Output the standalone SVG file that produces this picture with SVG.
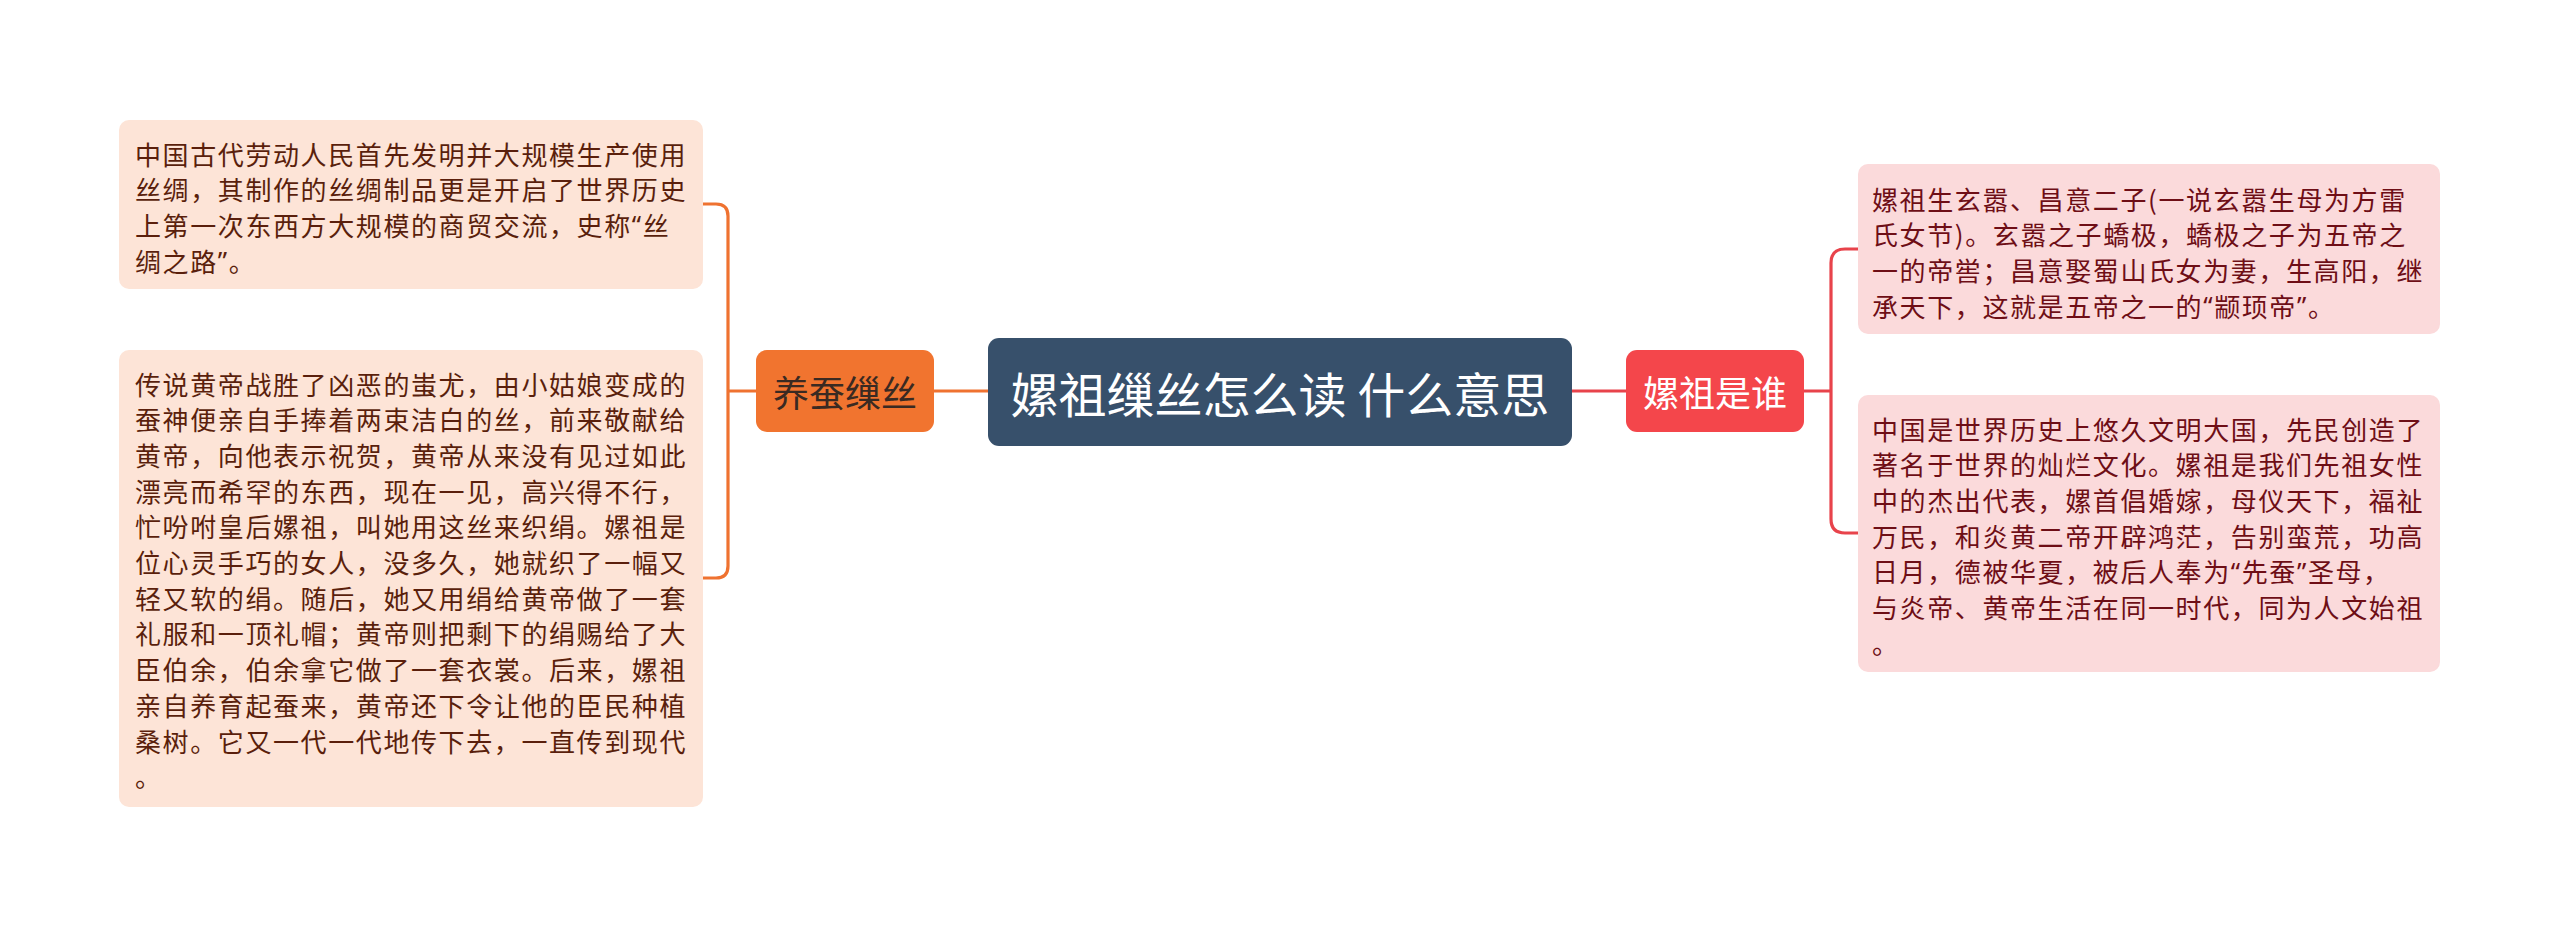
<svg xmlns="http://www.w3.org/2000/svg" width="2560" height="926" viewBox="0 0 2560 926">
<style>
text{font-family:"Noto Sans CJK SC","Noto Sans CJK JP",sans-serif;dominant-baseline:central}
.body{font-size:26px;letter-spacing:1.6px}
.q{font-family:"Noto Sans",sans-serif}
.lt{fill:#5a1f0c}
.rt{fill:#6e0e16}
.lbox{fill:#fde4d7}
.rbox{fill:#fbdadb}
.co{fill:none;stroke:#ef7230;stroke-width:3.2}
.cr{fill:none;stroke:#e8434b;stroke-width:3.2}
.nt{font-size:36px;text-anchor:middle}
</style>
<rect width="2560" height="926" fill="#ffffff"/>
<g id="connectors">
<path class="co" d="M988 391H934M756 391H728M728 391V216Q728 204 716 204H703M728 391V566Q728 578 716 578H703"/>
<path class="cr" d="M1572 391H1626M1804 391H1831M1831 391V263Q1831 249 1845 249H1858M1831 391V519Q1831 533 1845 533H1858"/>
</g>
<g id="center">
<rect x="988" y="338" width="584" height="108" rx="11" fill="#37506b"/>
<text x="1280" y="392" font-size="48" text-anchor="middle" fill="#ffffff">嫘祖缫丝怎么读 什么意思</text>
</g>
<g id="node-yangcan">
<rect x="756" y="350" width="178" height="82" rx="11" fill="#f1742f"/>
<text class="nt" x="845" y="391" fill="#3a2a22">养蚕缫丝</text>
</g>
<g id="node-leizu">
<rect x="1626" y="350" width="178" height="82" rx="11" fill="#f4464b"/>
<text class="nt" x="1715" y="391" fill="#ffffff">嫘祖是谁</text>
</g>
<g id="leaf-l1">
<rect class="lbox" x="119" y="120" width="584" height="169" rx="10"/>
<text class="body lt" x="135" y="153">中国古代劳动人民首先发明并大规模生产使用</text>
<text class="body lt" x="135" y="188.7">丝绸，其制作的丝绸制品更是开启了世界历史</text>
<text class="body lt" x="135" y="224.4">上第一次东西方大规模的商贸交流，史称<tspan class="q">“</tspan>丝</text>
<text class="body lt" x="135" y="260.1">绸之路<tspan class="q">”</tspan>。</text>
</g>
<g id="leaf-l2">
<rect class="lbox" x="119" y="350" width="584" height="457" rx="10"/>
<text class="body lt" x="135" y="383">传说黄帝战胜了凶恶的蚩尤，由小姑娘变成的</text>
<text class="body lt" x="135" y="418.7">蚕神便亲自手捧着两束洁白的丝，前来敬献给</text>
<text class="body lt" x="135" y="454.4">黄帝，向他表示祝贺，黄帝从来没有见过如此</text>
<text class="body lt" x="135" y="490.1">漂亮而希罕的东西，现在一见，高兴得不行，</text>
<text class="body lt" x="135" y="525.8">忙吩咐皇后嫘祖，叫她用这丝来织绢。嫘祖是</text>
<text class="body lt" x="135" y="561.5">位心灵手巧的女人，没多久，她就织了一幅又</text>
<text class="body lt" x="135" y="597.2">轻又软的绢。随后，她又用绢给黄帝做了一套</text>
<text class="body lt" x="135" y="632.9">礼服和一顶礼帽；黄帝则把剩下的绢赐给了大</text>
<text class="body lt" x="135" y="668.6">臣伯余，伯余拿它做了一套衣裳。后来，嫘祖</text>
<text class="body lt" x="135" y="704.3">亲自养育起蚕来，黄帝还下令让他的臣民种植</text>
<text class="body lt" x="135" y="740">桑树。它又一代一代地传下去，一直传到现代</text>
<text class="body lt" x="135" y="775.7">。</text>
</g>
<g id="leaf-r1">
<rect class="rbox" x="1858" y="164" width="582" height="170" rx="10"/>
<text class="body rt" x="1872" y="198">嫘祖生玄嚣、昌意二子(一说玄嚣生母为方雷</text>
<text class="body rt" x="1872" y="233.7">氏女节)。玄嚣之子蟜极，蟜极之子为五帝之</text>
<text class="body rt" x="1872" y="269.4">一的帝喾；昌意娶蜀山氏女为妻，生高阳，继</text>
<text class="body rt" x="1872" y="305.1">承天下，这就是五帝之一的<tspan class="q">“</tspan>颛顼帝<tspan class="q">”</tspan>。</text>
</g>
<g id="leaf-r2">
<rect class="rbox" x="1858" y="395" width="582" height="277" rx="10"/>
<text class="body rt" x="1872" y="428">中国是世界历史上悠久文明大国，先民创造了</text>
<text class="body rt" x="1872" y="463.7">著名于世界的灿烂文化。嫘祖是我们先祖女性</text>
<text class="body rt" x="1872" y="499.4">中的杰出代表，嫘首倡婚嫁，母仪天下，福祉</text>
<text class="body rt" x="1872" y="535.1">万民，和炎黄二帝开辟鸿茫，告别蛮荒，功高</text>
<text class="body rt" x="1872" y="570.8">日月，德被华夏，被后人奉为<tspan class="q">“</tspan>先蚕<tspan class="q">”</tspan>圣母，</text>
<text class="body rt" x="1872" y="606.5">与炎帝、黄帝生活在同一时代，同为人文始祖</text>
<text class="body rt" x="1872" y="642.2">。</text>
</g>
</svg>
